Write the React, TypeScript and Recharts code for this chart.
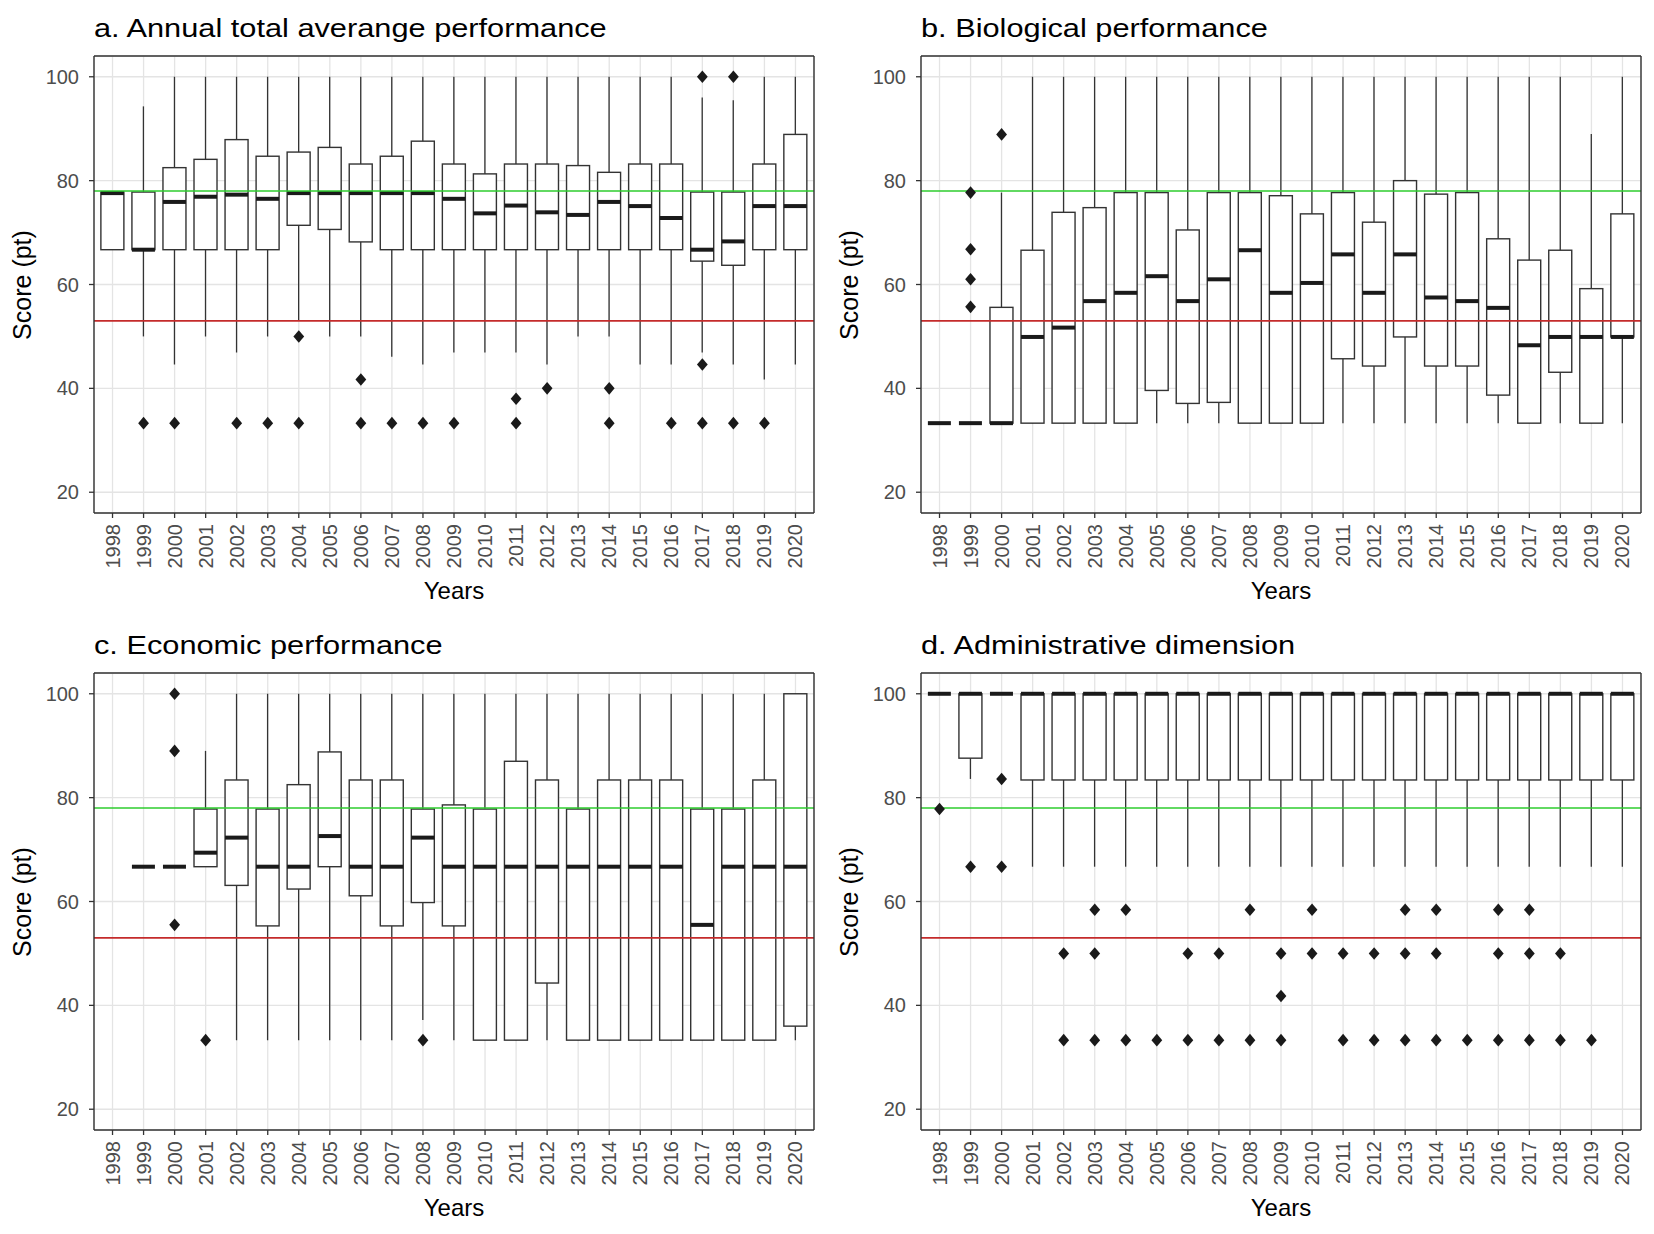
import React from 'react';
import { ComposedChart, Bar, Line, XAxis, YAxis, CartesianGrid, ReferenceLine } from 'recharts';

const years = ['1998', '1999', '2000', '2001', '2002', '2003', '2004', '2005', '2006', '2007', '2008', '2009',
  '2010', '2011', '2012', '2013', '2014', '2015', '2016', '2017', '2018', '2019', '2020'];

const yTicks = [20, 40, 60, 80, 100];
const minorTicks = [30, 50, 70, 90];
const goodLevel = 78;
const lowLevel = 53;

// a. Annual total
const aLo = [66.7, 50, 44.6, 50, 46.9, 50, 53, 50, 50, 46.1, 44.6, 46.9, 46.9, 46.9, 44.6, 50, 50, 44.6, 44.6, 46.9, 44.6, 41.7, 44.6];
const aQ1 = [66.7, 66.7, 66.7, 66.7, 66.7, 66.7, 71.4, 70.6, 68.2, 66.7, 66.7, 66.7, 66.7, 66.7, 66.7, 66.7, 66.7, 66.7, 66.7, 64.5, 63.7, 66.7, 66.7];
const aMed = [77.6, 66.7, 75.9, 76.9, 77.3, 76.5, 77.6, 77.6, 77.6, 77.6, 77.6, 76.5, 73.7, 75.2, 73.9, 73.4, 75.9, 75.1, 72.8, 66.7, 68.3, 75.1, 75.1];
const aQ3 = [77.8, 77.8, 82.5, 84.1, 87.9, 84.7, 85.5, 86.4, 83.2, 84.7, 87.6, 83.2, 81.3, 83.2, 83.2, 82.9, 81.6, 83.2, 83.2, 77.8, 77.8, 83.2, 88.9];
const aHi = [77.8, 94.3, 100, 100, 100, 100, 100, 100, 100, 100, 100, 100, 100, 100, 100, 100, 100, 100, 100, 96, 95.5, 100, 100];
const aOut = [[], [33.3], [33.3], [], [33.3], [33.3], [50, 33.3], [], [41.7, 33.3], [33.3], [33.3], [33.3], [],
  [38, 33.3], [40], [], [40, 33.3], [], [33.3], [100, 44.6, 33.3], [100, 33.3], [33.3], []];

// b. Biological
const bLo = [33.3, 33.3, 33.3, 33.3, 33.3, 33.3, 33.3, 33.3, 33.3, 33.3, 33.3, 33.3, 33.3, 33.3, 33.3, 33.3, 33.3, 33.3, 33.3, 33.3, 33.3, 33.3, 33.3];
const bQ1 = [33.3, 33.3, 33.3, 33.3, 33.3, 33.3, 33.3, 39.6, 37.1, 37.3, 33.3, 33.3, 33.3, 45.7, 44.3, 49.9, 44.3, 44.3, 38.7, 33.3, 43.1, 33.3, 49.9];
const bMed = [33.3, 33.3, 33.3, 49.9, 51.7, 56.8, 58.4, 61.6, 56.8, 61, 66.6, 58.4, 60.3, 65.8, 58.4, 65.8, 57.5, 56.8, 55.5, 48.3, 49.9, 49.9, 49.9];
const bQ3 = [33.3, 33.3, 55.6, 66.6, 73.9, 74.8, 77.7, 77.7, 70.5, 77.7, 77.7, 77.1, 73.6, 77.7, 72, 80, 77.4, 77.7, 68.8, 64.7, 66.6, 59.2, 73.6];
const bHi = [33.3, 33.3, 77.7, 100, 100, 100, 100, 100, 100, 100, 100, 100, 100, 100, 100, 100, 100, 100, 100, 100, 100, 89, 100];
const bOut = [[], [77.7, 66.8, 61, 55.7], [88.9], [], [], [], [], [], [], [], [], [], [], [], [], [], [], [], [], [], [], [], []];

// c. Economic
const cLo = [null, 66.7, 66.7, 66.7, 33.3, 33.3, 33.3, 33.3, 33.3, 33.3, 37.2, 33.3, 33.3, 33.3, 33.3, 33.3, 33.3, 33.3, 33.3, 33.3, 33.3, 33.3, 33.3];
const cQ1 = [null, 66.7, 66.7, 66.7, 63.1, 55.3, 62.4, 66.7, 61.1, 55.3, 59.8, 55.3, 33.3, 33.3, 44.3, 33.3, 33.3, 33.3, 33.3, 33.3, 33.3, 33.3, 36];
const cMed = [null, 66.7, 66.7, 69.4, 72.3, 66.7, 66.7, 72.6, 66.7, 66.7, 72.3, 66.7, 66.7, 66.7, 66.7, 66.7, 66.7, 66.7, 66.7, 55.5, 66.7, 66.7, 66.7];
const cQ3 = [null, 66.7, 66.7, 77.8, 83.4, 77.8, 82.5, 88.8, 83.4, 83.4, 77.8, 78.6, 77.8, 87, 83.4, 77.8, 83.4, 83.4, 83.4, 77.8, 77.8, 83.4, 100];
const cHi = [null, 66.7, 66.7, 89, 100, 100, 100, 100, 100, 100, 100, 100, 100, 100, 100, 100, 100, 100, 100, 100, 100, 100, 100];
const cOut = [[], [], [100, 89, 55.5], [33.3], [], [], [], [], [], [], [33.3], [], [], [], [], [], [], [], [], [], [], [], []];

// d. Administrative
const dLo = [100, 83.6, 100, 66.7, 66.7, 66.7, 66.7, 66.7, 66.7, 66.7, 66.7, 66.7, 66.7, 66.7, 66.7, 66.7, 66.7, 66.7, 66.7, 66.7, 66.7, 66.7, 66.7];
const dQ1 = [100, 87.6, 100, 83.4, 83.4, 83.4, 83.4, 83.4, 83.4, 83.4, 83.4, 83.4, 83.4, 83.4, 83.4, 83.4, 83.4, 83.4, 83.4, 83.4, 83.4, 83.4, 83.4];
const dMed = [100, 100, 100, 100, 100, 100, 100, 100, 100, 100, 100, 100, 100, 100, 100, 100, 100, 100, 100, 100, 100, 100, 100];
const dQ3 = [100, 100, 100, 100, 100, 100, 100, 100, 100, 100, 100, 100, 100, 100, 100, 100, 100, 100, 100, 100, 100, 100, 100];
const dHi = [100, 100, 100, 100, 100, 100, 100, 100, 100, 100, 100, 100, 100, 100, 100, 100, 100, 100, 100, 100, 100, 100, 100];
const dOut = [[77.8], [66.7], [83.6, 66.7], [], [50, 33.3], [58.4, 50, 33.3], [58.4, 33.3], [33.3], [50, 33.3], [50, 33.3],
  [58.4, 33.3], [50, 41.8, 33.3], [58.4, 50], [50, 33.3], [50, 33.3], [58.4, 50, 33.3], [58.4, 50, 33.3], [33.3],
  [58.4, 50, 33.3], [58.4, 50, 33.3], [50, 33.3], [33.3], []];

const FONT = '"Liberation Sans", Arial, sans-serif';
const INK = '#333333';

const buildRows = (lo: any[], q1: any[], med: any[], q3: any[], hi: any[], out: number[][]) =>
  years.map((year, i) => {
    const row: any = { year, q1: q1[i], med: med[i], q3: q3[i] };
    if (lo[i] != null) {
      row.wr = [lo[i], hi[i]];
      row.box = [q1[i], q3[i]];
    }
    for (let k = 0; k < 4; k++) row['o' + k] = out[i][k] ?? null;
    return row;
  });

const WhiskerShape = (props: any) => {
  const { x, y, width, height, payload } = props;
  if (!payload || payload.wr == null || y == null) return <g />;
  const cx = x + width / 2;
  return <line x1={cx} x2={cx} y1={y} y2={y + height} stroke={INK} strokeWidth={1.3} />;
};

const BoxShape = (props: any) => {
  const { x, y, width, height, payload } = props;
  if (!payload || payload.box == null || y == null) return <g />;
  const span = payload.q3 - payload.q1;
  const my = span > 0 ? y + (height * (payload.q3 - payload.med)) / span : y;
  return (
    <g>
      {height > 0 && <rect x={x} y={y} width={width} height={height} fill="#ffffff" stroke={INK} strokeWidth={1.4} />}
      <line x1={x} x2={x + width} y1={my} y2={my} stroke="#1a1a1a" strokeWidth={4} />
    </g>
  );
};

const Diamond = (props: any) => {
  const { cx, cy, value, index } = props;
  if (value == null || cy == null || Number.isNaN(cy)) return <g key={'n' + index} />;
  return (
    <path
      key={'d' + index}
      d={`M${cx},${cy - 6.3} L${cx + 5.4},${cy} L${cx},${cy + 6.3} L${cx - 5.4},${cy} Z`}
      fill="#1a1a1a"
    />
  );
};

const YearTick = (props: any) => {
  const { x, y, payload } = props;
  return (
    <text x={x} y={y} transform={`rotate(-90 ${x} ${y})`} textAnchor="end" dominantBaseline="central"
      fontSize={20} fill="#4d4d4d" fontFamily={FONT}>
      {payload.value}
    </text>
  );
};

interface PanelProps {
  title: string;
  rows: any[];
}

const W = 827;
const H = 617;

const Panel: React.FC<PanelProps> = ({ title, rows }) => {
  return (
    <div style={{ position: 'relative', width: W, height: H }}>
      <ComposedChart width={W} height={H} data={rows} barCategoryGap="12.5%"
        margin={{ top: 55, right: 12, left: 0, bottom: 0 }}>
        <XAxis xAxisId="main" dataKey="year" type="category" padding={{ left: 3, right: 3 }} height={104}
          interval={0} tick={<YearTick />} tickSize={5} tickMargin={6}
          axisLine={{ stroke: INK, strokeWidth: 1.4 }} tickLine={{ stroke: INK, strokeWidth: 1.3 }} />
        <XAxis xAxisId="wh" dataKey="year" type="category" padding={{ left: 3, right: 3 }} hide />
        <XAxis xAxisId="top" dataKey="year" type="category" orientation="top" height={1}
          tick={false} tickLine={false} axisLine={{ stroke: INK, strokeWidth: 1.4 }} />
        <YAxis yAxisId="l" type="number" domain={[16, 104]} allowDataOverflow ticks={yTicks} width={94}
          tick={{ fontSize: 20, fill: '#4d4d4d', fontFamily: FONT }} tickSize={5} tickMargin={10}
          axisLine={{ stroke: INK, strokeWidth: 1.4 }} tickLine={{ stroke: INK, strokeWidth: 1.3 }} />
        <YAxis yAxisId="r" type="number" orientation="right" domain={[16, 104]} allowDataOverflow
          ticks={minorTicks} width={1} tick={false} tickLine={false} axisLine={{ stroke: INK, strokeWidth: 1.4 }} />
        <CartesianGrid xAxisId="main" yAxisId="r" vertical={false} stroke="#efefef" strokeWidth={1} />
        <CartesianGrid xAxisId="main" yAxisId="l" stroke="#e4e4e4" strokeWidth={1.3} />
        <Bar xAxisId="wh" yAxisId="l" dataKey="wr" shape={<WhiskerShape />} isAnimationActive={false} />
        <Bar xAxisId="main" yAxisId="l" dataKey="box" shape={<BoxShape />} isAnimationActive={false} />
        <ReferenceLine xAxisId="main" yAxisId="l" y={goodLevel} stroke="#2ecc2e" strokeWidth={1.7} />
        <ReferenceLine xAxisId="main" yAxisId="l" y={lowLevel} stroke="#c42b2b" strokeWidth={1.7} />
        {['o0', 'o1', 'o2', 'o3'].map((k) => (
          <Line key={k} xAxisId="main" yAxisId="l" dataKey={k} stroke="none" dot={Diamond}
            activeDot={false} isAnimationActive={false} />
        ))}
      </ComposedChart>
      <svg width={W} height={H} style={{ position: 'absolute', left: 0, top: 0, pointerEvents: 'none' }}>
        <text transform="translate(94 37) scale(1.23 1)" fontSize={25} fill="#000" fontFamily={FONT}>{title}</text>
        <text x={454} y={599} textAnchor="middle" fontSize={24} fill="#000" fontFamily={FONT}>Years</text>
        <text x={31} y={285} transform="rotate(-90 31 285)" textAnchor="middle" fontSize={25} fill="#000"
          fontFamily={FONT}>Score (pt)</text>
      </svg>
    </div>
  );
};

const rowsA = buildRows(aLo, aQ1, aMed, aQ3, aHi, aOut);
const rowsB = buildRows(bLo, bQ1, bMed, bQ3, bHi, bOut);
const rowsC = buildRows(cLo, cQ1, cMed, cQ3, cHi, cOut);
const rowsD = buildRows(dLo, dQ1, dMed, dQ3, dHi, dOut);

export default function App() {
  return (
    <div style={{ position: 'absolute', left: 0, top: 0, width: 1654, height: 1234, background: '#fff',
      display: 'grid', gridTemplateColumns: `${W}px ${W}px`, gridTemplateRows: `${H}px ${H}px` }}>
      <Panel title="a. Annual total averange performance" rows={rowsA} />
      <Panel title="b. Biological performance" rows={rowsB} />
      <Panel title="c. Economic performance" rows={rowsC} />
      <Panel title="d. Administrative dimension" rows={rowsD} />
    </div>
  );
}
